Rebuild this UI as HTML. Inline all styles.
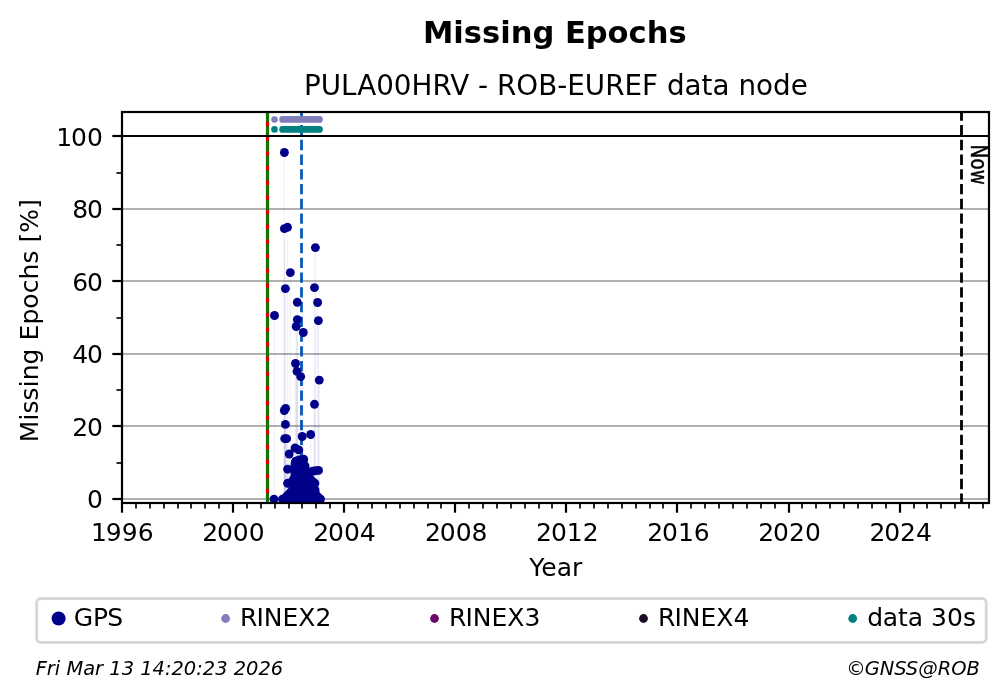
<!DOCTYPE html>
<html lang="en"><head><meta charset="utf-8"><title>Missing Epochs - PULA00HRV</title>
<style>html,body{margin:0;padding:0;background:#fff;}body{width:1008px;height:699px;overflow:hidden;font-family:"DejaVu Sans","Liberation Sans",sans-serif;}svg{display:block;will-change:transform;}</style>
</head><body>
<svg width="1008" height="699" viewBox="0 0 1008 699" font-family="DejaVu Sans, Liberation Sans, sans-serif">
<rect x="0" y="0" width="1008" height="699" fill="#ffffff"/>
<g stroke="#b0b0b0" stroke-width="2.2">
<line x1="122.0" x2="989.0" y1="499" y2="499"/>
<line x1="122.0" x2="989.0" y1="426" y2="426"/>
<line x1="122.0" x2="989.0" y1="354" y2="354"/>
<line x1="122.0" x2="989.0" y1="281" y2="281"/>
<line x1="122.0" x2="989.0" y1="209" y2="209"/>
</g>
<g>
<line x1="267.5" x2="267.5" y1="503.5" y2="112.0" stroke="#d80000" stroke-width="3.2"/>
<line x1="267.5" x2="267.5" y1="503.5" y2="112.0" stroke="#008000" stroke-width="2.8" stroke-dasharray="10.25 4.43"/>
<line x1="301.5" x2="301.5" y1="503.9" y2="112.0" stroke="#085ab8" stroke-width="2.8" stroke-dasharray="10.3 4.44"/>
<line x1="961.5" x2="961.5" y1="503.9" y2="112.0" stroke="#000" stroke-width="2.8" stroke-dasharray="10.3 4.44"/>
<g stroke="#00008b" stroke-opacity="0.05" stroke-width="1.5">
<line x1="284.4" x2="284.4" y1="152.5" y2="498.8"/>
<line x1="284.4" x2="284.4" y1="228.6" y2="498.8"/>
<line x1="287.5" x2="287.5" y1="227.3" y2="498.8"/>
<line x1="315.4" x2="315.4" y1="247.6" y2="498.8"/>
<line x1="290.3" x2="290.3" y1="272.6" y2="498.8"/>
<line x1="285.4" x2="285.4" y1="288.6" y2="498.8"/>
<line x1="314.5" x2="314.5" y1="287.6" y2="498.8"/>
<line x1="297.3" x2="297.3" y1="302.3" y2="498.8"/>
<line x1="317.6" x2="317.6" y1="302.5" y2="498.8"/>
<line x1="274.5" x2="274.5" y1="315.5" y2="498.8"/>
<line x1="297.3" x2="297.3" y1="319.6" y2="498.8"/>
<line x1="318.4" x2="318.4" y1="320.6" y2="498.8"/>
<line x1="296.2" x2="296.2" y1="326.5" y2="498.8"/>
<line x1="303.3" x2="303.3" y1="332.5" y2="498.8"/>
<line x1="295.5" x2="295.5" y1="363.5" y2="498.8"/>
<line x1="297.0" x2="297.0" y1="371.4" y2="498.8"/>
<line x1="300.7" x2="300.7" y1="376.6" y2="498.8"/>
<line x1="319.3" x2="319.3" y1="380.1" y2="498.8"/>
<line x1="314.5" x2="314.5" y1="404.3" y2="498.8"/>
<line x1="285.6" x2="285.6" y1="408.4" y2="498.8"/>
<line x1="284.3" x2="284.3" y1="410.5" y2="498.8"/>
<line x1="285.4" x2="285.4" y1="424.4" y2="498.8"/>
<line x1="310.7" x2="310.7" y1="434.5" y2="498.8"/>
<line x1="302.2" x2="302.2" y1="436.5" y2="498.8"/>
<line x1="284.7" x2="284.7" y1="438.6" y2="498.8"/>
<line x1="286.6" x2="286.6" y1="438.6" y2="498.8"/>
<line x1="295.1" x2="295.1" y1="448.0" y2="498.8"/>
<line x1="298.8" x2="298.8" y1="449.9" y2="498.8"/>
<line x1="289.2" x2="289.2" y1="454.0" y2="498.8"/>
<line x1="303.7" x2="303.7" y1="459.2" y2="498.8"/>
<line x1="295.6" x2="295.6" y1="461.2" y2="498.8"/>
<line x1="287.6" x2="287.6" y1="469.2" y2="498.8"/>
<line x1="318.5" x2="318.5" y1="470.4" y2="498.8"/>
<line x1="287.6" x2="287.6" y1="483.3" y2="498.8"/>
<line x1="314.9" x2="314.9" y1="483.3" y2="498.8"/>
</g>
<g fill="#00008b">
<circle cx="284.4" cy="152.5" r="4.45"/>
<circle cx="284.4" cy="228.6" r="4.45"/>
<circle cx="287.5" cy="227.3" r="4.45"/>
<circle cx="315.4" cy="247.6" r="4.45"/>
<circle cx="290.3" cy="272.6" r="4.45"/>
<circle cx="285.4" cy="288.6" r="4.45"/>
<circle cx="314.5" cy="287.6" r="4.45"/>
<circle cx="297.3" cy="302.3" r="4.45"/>
<circle cx="317.6" cy="302.5" r="4.45"/>
<circle cx="274.5" cy="315.5" r="4.45"/>
<circle cx="297.3" cy="319.6" r="4.45"/>
<circle cx="318.4" cy="320.6" r="4.45"/>
<circle cx="296.2" cy="326.5" r="4.45"/>
<circle cx="303.3" cy="332.5" r="4.45"/>
<circle cx="295.5" cy="363.5" r="4.45"/>
<circle cx="297.0" cy="371.4" r="4.45"/>
<circle cx="300.7" cy="376.6" r="4.45"/>
<circle cx="319.3" cy="380.1" r="4.45"/>
<circle cx="314.5" cy="404.3" r="4.45"/>
<circle cx="285.6" cy="408.4" r="4.45"/>
<circle cx="284.3" cy="410.5" r="4.45"/>
<circle cx="285.4" cy="424.4" r="4.45"/>
<circle cx="310.7" cy="434.5" r="4.45"/>
<circle cx="302.2" cy="436.5" r="4.45"/>
<circle cx="284.7" cy="438.6" r="4.45"/>
<circle cx="286.6" cy="438.6" r="4.45"/>
<circle cx="295.1" cy="448.0" r="4.45"/>
<circle cx="298.8" cy="449.9" r="4.45"/>
<circle cx="289.2" cy="454.0" r="4.45"/>
<circle cx="303.7" cy="459.2" r="4.45"/>
<circle cx="295.6" cy="461.2" r="4.45"/>
<circle cx="287.6" cy="469.2" r="4.45"/>
<circle cx="318.5" cy="470.4" r="4.45"/>
<circle cx="287.6" cy="483.3" r="4.45"/>
<circle cx="314.9" cy="483.3" r="4.45"/>
<circle cx="299.0" cy="460.0" r="4.45"/>
<circle cx="301.0" cy="460.0" r="4.45"/>
<circle cx="303.0" cy="460.0" r="4.45"/>
<circle cx="297.0" cy="462.0" r="4.45"/>
<circle cx="299.0" cy="462.0" r="4.45"/>
<circle cx="301.0" cy="462.0" r="4.45"/>
<circle cx="303.0" cy="462.0" r="4.45"/>
<circle cx="295.0" cy="464.0" r="4.45"/>
<circle cx="297.0" cy="464.0" r="4.45"/>
<circle cx="299.0" cy="464.0" r="4.45"/>
<circle cx="301.0" cy="464.0" r="4.45"/>
<circle cx="303.0" cy="464.0" r="4.45"/>
<circle cx="295.0" cy="466.0" r="4.45"/>
<circle cx="297.0" cy="466.0" r="4.45"/>
<circle cx="299.0" cy="466.0" r="4.45"/>
<circle cx="301.0" cy="466.0" r="4.45"/>
<circle cx="303.0" cy="466.0" r="4.45"/>
<circle cx="305.0" cy="466.0" r="4.45"/>
<circle cx="295.0" cy="468.0" r="4.45"/>
<circle cx="297.0" cy="468.0" r="4.45"/>
<circle cx="299.0" cy="468.0" r="4.45"/>
<circle cx="301.0" cy="468.0" r="4.45"/>
<circle cx="303.0" cy="468.0" r="4.45"/>
<circle cx="305.0" cy="468.0" r="4.45"/>
<circle cx="295.0" cy="470.0" r="4.45"/>
<circle cx="297.0" cy="470.0" r="4.45"/>
<circle cx="299.0" cy="470.0" r="4.45"/>
<circle cx="301.0" cy="470.0" r="4.45"/>
<circle cx="303.0" cy="470.0" r="4.45"/>
<circle cx="305.0" cy="470.0" r="4.45"/>
<circle cx="295.0" cy="472.0" r="4.45"/>
<circle cx="297.0" cy="472.0" r="4.45"/>
<circle cx="299.0" cy="472.0" r="4.45"/>
<circle cx="301.0" cy="472.0" r="4.45"/>
<circle cx="303.0" cy="472.0" r="4.45"/>
<circle cx="305.0" cy="472.0" r="4.45"/>
<circle cx="307.0" cy="472.0" r="4.45"/>
<circle cx="295.0" cy="474.0" r="4.45"/>
<circle cx="297.0" cy="474.0" r="4.45"/>
<circle cx="299.0" cy="474.0" r="4.45"/>
<circle cx="301.0" cy="474.0" r="4.45"/>
<circle cx="303.0" cy="474.0" r="4.45"/>
<circle cx="305.0" cy="474.0" r="4.45"/>
<circle cx="307.0" cy="474.0" r="4.45"/>
<circle cx="295.0" cy="476.0" r="4.45"/>
<circle cx="297.0" cy="476.0" r="4.45"/>
<circle cx="299.0" cy="476.0" r="4.45"/>
<circle cx="301.0" cy="476.0" r="4.45"/>
<circle cx="303.0" cy="476.0" r="4.45"/>
<circle cx="305.0" cy="476.0" r="4.45"/>
<circle cx="307.0" cy="476.0" r="4.45"/>
<circle cx="309.0" cy="476.0" r="4.45"/>
<circle cx="295.0" cy="478.0" r="4.45"/>
<circle cx="297.0" cy="478.0" r="4.45"/>
<circle cx="299.0" cy="478.0" r="4.45"/>
<circle cx="301.0" cy="478.0" r="4.45"/>
<circle cx="303.0" cy="478.0" r="4.45"/>
<circle cx="305.0" cy="478.0" r="4.45"/>
<circle cx="307.0" cy="478.0" r="4.45"/>
<circle cx="309.0" cy="478.0" r="4.45"/>
<circle cx="293.0" cy="480.0" r="4.45"/>
<circle cx="295.0" cy="480.0" r="4.45"/>
<circle cx="297.0" cy="480.0" r="4.45"/>
<circle cx="299.0" cy="480.0" r="4.45"/>
<circle cx="301.0" cy="480.0" r="4.45"/>
<circle cx="303.0" cy="480.0" r="4.45"/>
<circle cx="305.0" cy="480.0" r="4.45"/>
<circle cx="307.0" cy="480.0" r="4.45"/>
<circle cx="309.0" cy="480.0" r="4.45"/>
<circle cx="311.0" cy="480.0" r="4.45"/>
<circle cx="293.0" cy="482.0" r="4.45"/>
<circle cx="295.0" cy="482.0" r="4.45"/>
<circle cx="297.0" cy="482.0" r="4.45"/>
<circle cx="299.0" cy="482.0" r="4.45"/>
<circle cx="301.0" cy="482.0" r="4.45"/>
<circle cx="303.0" cy="482.0" r="4.45"/>
<circle cx="305.0" cy="482.0" r="4.45"/>
<circle cx="307.0" cy="482.0" r="4.45"/>
<circle cx="309.0" cy="482.0" r="4.45"/>
<circle cx="311.0" cy="482.0" r="4.45"/>
<circle cx="313.0" cy="482.0" r="4.45"/>
<circle cx="293.0" cy="484.0" r="4.45"/>
<circle cx="295.0" cy="484.0" r="4.45"/>
<circle cx="297.0" cy="484.0" r="4.45"/>
<circle cx="299.0" cy="484.0" r="4.45"/>
<circle cx="301.0" cy="484.0" r="4.45"/>
<circle cx="303.0" cy="484.0" r="4.45"/>
<circle cx="305.0" cy="484.0" r="4.45"/>
<circle cx="307.0" cy="484.0" r="4.45"/>
<circle cx="309.0" cy="484.0" r="4.45"/>
<circle cx="311.0" cy="484.0" r="4.45"/>
<circle cx="313.0" cy="484.0" r="4.45"/>
<circle cx="293.0" cy="486.0" r="4.45"/>
<circle cx="295.0" cy="486.0" r="4.45"/>
<circle cx="297.0" cy="486.0" r="4.45"/>
<circle cx="299.0" cy="486.0" r="4.45"/>
<circle cx="301.0" cy="486.0" r="4.45"/>
<circle cx="303.0" cy="486.0" r="4.45"/>
<circle cx="305.0" cy="486.0" r="4.45"/>
<circle cx="307.0" cy="486.0" r="4.45"/>
<circle cx="309.0" cy="486.0" r="4.45"/>
<circle cx="311.0" cy="486.0" r="4.45"/>
<circle cx="313.0" cy="486.0" r="4.45"/>
<circle cx="293.0" cy="488.0" r="4.45"/>
<circle cx="295.0" cy="488.0" r="4.45"/>
<circle cx="297.0" cy="488.0" r="4.45"/>
<circle cx="299.0" cy="488.0" r="4.45"/>
<circle cx="301.0" cy="488.0" r="4.45"/>
<circle cx="303.0" cy="488.0" r="4.45"/>
<circle cx="305.0" cy="488.0" r="4.45"/>
<circle cx="307.0" cy="488.0" r="4.45"/>
<circle cx="309.0" cy="488.0" r="4.45"/>
<circle cx="311.0" cy="488.0" r="4.45"/>
<circle cx="313.0" cy="488.0" r="4.45"/>
<circle cx="293.0" cy="490.0" r="4.45"/>
<circle cx="295.0" cy="490.0" r="4.45"/>
<circle cx="297.0" cy="490.0" r="4.45"/>
<circle cx="299.0" cy="490.0" r="4.45"/>
<circle cx="301.0" cy="490.0" r="4.45"/>
<circle cx="303.0" cy="490.0" r="4.45"/>
<circle cx="305.0" cy="490.0" r="4.45"/>
<circle cx="307.0" cy="490.0" r="4.45"/>
<circle cx="309.0" cy="490.0" r="4.45"/>
<circle cx="311.0" cy="490.0" r="4.45"/>
<circle cx="313.0" cy="490.0" r="4.45"/>
<circle cx="315.0" cy="490.0" r="4.45"/>
<circle cx="291.0" cy="492.0" r="4.45"/>
<circle cx="293.0" cy="492.0" r="4.45"/>
<circle cx="295.0" cy="492.0" r="4.45"/>
<circle cx="297.0" cy="492.0" r="4.45"/>
<circle cx="299.0" cy="492.0" r="4.45"/>
<circle cx="301.0" cy="492.0" r="4.45"/>
<circle cx="303.0" cy="492.0" r="4.45"/>
<circle cx="305.0" cy="492.0" r="4.45"/>
<circle cx="307.0" cy="492.0" r="4.45"/>
<circle cx="309.0" cy="492.0" r="4.45"/>
<circle cx="311.0" cy="492.0" r="4.45"/>
<circle cx="313.0" cy="492.0" r="4.45"/>
<circle cx="315.0" cy="492.0" r="4.45"/>
<circle cx="289.0" cy="494.0" r="4.45"/>
<circle cx="291.0" cy="494.0" r="4.45"/>
<circle cx="293.0" cy="494.0" r="4.45"/>
<circle cx="295.0" cy="494.0" r="4.45"/>
<circle cx="297.0" cy="494.0" r="4.45"/>
<circle cx="299.0" cy="494.0" r="4.45"/>
<circle cx="301.0" cy="494.0" r="4.45"/>
<circle cx="303.0" cy="494.0" r="4.45"/>
<circle cx="305.0" cy="494.0" r="4.45"/>
<circle cx="307.0" cy="494.0" r="4.45"/>
<circle cx="309.0" cy="494.0" r="4.45"/>
<circle cx="311.0" cy="494.0" r="4.45"/>
<circle cx="313.0" cy="494.0" r="4.45"/>
<circle cx="315.0" cy="494.0" r="4.45"/>
<circle cx="287.0" cy="496.0" r="4.45"/>
<circle cx="289.0" cy="496.0" r="4.45"/>
<circle cx="291.0" cy="496.0" r="4.45"/>
<circle cx="293.0" cy="496.0" r="4.45"/>
<circle cx="295.0" cy="496.0" r="4.45"/>
<circle cx="297.0" cy="496.0" r="4.45"/>
<circle cx="299.0" cy="496.0" r="4.45"/>
<circle cx="301.0" cy="496.0" r="4.45"/>
<circle cx="303.0" cy="496.0" r="4.45"/>
<circle cx="305.0" cy="496.0" r="4.45"/>
<circle cx="307.0" cy="496.0" r="4.45"/>
<circle cx="309.0" cy="496.0" r="4.45"/>
<circle cx="311.0" cy="496.0" r="4.45"/>
<circle cx="313.0" cy="496.0" r="4.45"/>
<circle cx="315.0" cy="496.0" r="4.45"/>
<circle cx="317.0" cy="496.0" r="4.45"/>
<circle cx="285.0" cy="498.0" r="4.45"/>
<circle cx="287.0" cy="498.0" r="4.45"/>
<circle cx="289.0" cy="498.0" r="4.45"/>
<circle cx="291.0" cy="498.0" r="4.45"/>
<circle cx="293.0" cy="498.0" r="4.45"/>
<circle cx="295.0" cy="498.0" r="4.45"/>
<circle cx="297.0" cy="498.0" r="4.45"/>
<circle cx="299.0" cy="498.0" r="4.45"/>
<circle cx="301.0" cy="498.0" r="4.45"/>
<circle cx="303.0" cy="498.0" r="4.45"/>
<circle cx="305.0" cy="498.0" r="4.45"/>
<circle cx="307.0" cy="498.0" r="4.45"/>
<circle cx="309.0" cy="498.0" r="4.45"/>
<circle cx="311.0" cy="498.0" r="4.45"/>
<circle cx="313.0" cy="498.0" r="4.45"/>
<circle cx="315.0" cy="498.0" r="4.45"/>
<circle cx="317.0" cy="498.0" r="4.45"/>
<circle cx="319.0" cy="498.0" r="4.45"/>
<circle cx="312.6" cy="471.2" r="4.45"/>
<circle cx="315.4" cy="470.8" r="4.45"/>
<circle cx="282.5" cy="499.1" r="4.45"/>
<circle cx="284.5" cy="499.1" r="4.45"/>
<circle cx="286.5" cy="499.1" r="4.45"/>
<circle cx="288.5" cy="499.1" r="4.45"/>
<circle cx="290.5" cy="499.1" r="4.45"/>
<circle cx="292.5" cy="499.1" r="4.45"/>
<circle cx="294.5" cy="499.1" r="4.45"/>
<circle cx="296.5" cy="499.1" r="4.45"/>
<circle cx="298.5" cy="499.1" r="4.45"/>
<circle cx="300.5" cy="499.1" r="4.45"/>
<circle cx="302.5" cy="499.1" r="4.45"/>
<circle cx="304.5" cy="499.1" r="4.45"/>
<circle cx="306.5" cy="499.1" r="4.45"/>
<circle cx="308.5" cy="499.1" r="4.45"/>
<circle cx="310.5" cy="499.1" r="4.45"/>
<circle cx="312.5" cy="499.1" r="4.45"/>
<circle cx="314.5" cy="499.1" r="4.45"/>
<circle cx="316.5" cy="499.1" r="4.45"/>
<circle cx="318.5" cy="499.1" r="4.45"/>
<circle cx="320.5" cy="499.1" r="4.45"/>
<circle cx="274.0" cy="499.1" r="4.45"/>
</g>
<circle cx="274.5" cy="119.45" r="3.3" fill="#827dbb"/>
<line x1="282.6" x2="319.5" y1="119.45" y2="119.45" stroke="#827dbb" stroke-width="6.7" stroke-linecap="round"/>
<circle cx="274.5" cy="129.4" r="3.3" fill="#008080"/>
<line x1="282.6" x2="319.5" y1="129.4" y2="129.4" stroke="#008080" stroke-width="6.7" stroke-linecap="round"/>
<line x1="122.0" x2="989.0" y1="136" y2="136" stroke="#000" stroke-width="2.2"/>
</g>
<text transform="translate(971.0,144.6) rotate(90) scale(0.885,1)" font-family="DejaVu Sans Condensed, DejaVu Sans, Liberation Sans, sans-serif" font-size="23.2" fill="#000" stroke="#000" stroke-width="0.35">Now</text>
<g stroke="#000" stroke-width="2.2">
<line x1="122" x2="122" y1="503.0" y2="512.7"/>
<line x1="233" x2="233" y1="503.0" y2="512.7"/>
<line x1="344" x2="344" y1="503.0" y2="512.7"/>
<line x1="455" x2="455" y1="503.0" y2="512.7"/>
<line x1="566" x2="566" y1="503.0" y2="512.7"/>
<line x1="677" x2="677" y1="503.0" y2="512.7"/>
<line x1="789" x2="789" y1="503.0" y2="512.7"/>
<line x1="900" x2="900" y1="503.0" y2="512.7"/>
<line x1="112.3" x2="122.0" y1="499" y2="499"/>
<line x1="112.3" x2="122.0" y1="426" y2="426"/>
<line x1="112.3" x2="122.0" y1="354" y2="354"/>
<line x1="112.3" x2="122.0" y1="281" y2="281"/>
<line x1="112.3" x2="122.0" y1="209" y2="209"/>
<line x1="112.3" x2="122.0" y1="136" y2="136"/>
</g>
<g stroke="#000" stroke-width="1.67">
<line x1="136" x2="136" y1="503.0" y2="508.55"/>
<line x1="150" x2="150" y1="503.0" y2="508.55"/>
<line x1="164" x2="164" y1="503.0" y2="508.55"/>
<line x1="178" x2="178" y1="503.0" y2="508.55"/>
<line x1="191" x2="191" y1="503.0" y2="508.55"/>
<line x1="205" x2="205" y1="503.0" y2="508.55"/>
<line x1="219" x2="219" y1="503.0" y2="508.55"/>
<line x1="247" x2="247" y1="503.0" y2="508.55"/>
<line x1="261" x2="261" y1="503.0" y2="508.55"/>
<line x1="275" x2="275" y1="503.0" y2="508.55"/>
<line x1="289" x2="289" y1="503.0" y2="508.55"/>
<line x1="302" x2="302" y1="503.0" y2="508.55"/>
<line x1="316" x2="316" y1="503.0" y2="508.55"/>
<line x1="330" x2="330" y1="503.0" y2="508.55"/>
<line x1="358" x2="358" y1="503.0" y2="508.55"/>
<line x1="372" x2="372" y1="503.0" y2="508.55"/>
<line x1="386" x2="386" y1="503.0" y2="508.55"/>
<line x1="400" x2="400" y1="503.0" y2="508.55"/>
<line x1="414" x2="414" y1="503.0" y2="508.55"/>
<line x1="428" x2="428" y1="503.0" y2="508.55"/>
<line x1="441" x2="441" y1="503.0" y2="508.55"/>
<line x1="469" x2="469" y1="503.0" y2="508.55"/>
<line x1="483" x2="483" y1="503.0" y2="508.55"/>
<line x1="497" x2="497" y1="503.0" y2="508.55"/>
<line x1="511" x2="511" y1="503.0" y2="508.55"/>
<line x1="525" x2="525" y1="503.0" y2="508.55"/>
<line x1="539" x2="539" y1="503.0" y2="508.55"/>
<line x1="552" x2="552" y1="503.0" y2="508.55"/>
<line x1="580" x2="580" y1="503.0" y2="508.55"/>
<line x1="594" x2="594" y1="503.0" y2="508.55"/>
<line x1="608" x2="608" y1="503.0" y2="508.55"/>
<line x1="622" x2="622" y1="503.0" y2="508.55"/>
<line x1="636" x2="636" y1="503.0" y2="508.55"/>
<line x1="650" x2="650" y1="503.0" y2="508.55"/>
<line x1="663" x2="663" y1="503.0" y2="508.55"/>
<line x1="691" x2="691" y1="503.0" y2="508.55"/>
<line x1="705" x2="705" y1="503.0" y2="508.55"/>
<line x1="719" x2="719" y1="503.0" y2="508.55"/>
<line x1="733" x2="733" y1="503.0" y2="508.55"/>
<line x1="747" x2="747" y1="503.0" y2="508.55"/>
<line x1="761" x2="761" y1="503.0" y2="508.55"/>
<line x1="775" x2="775" y1="503.0" y2="508.55"/>
<line x1="802" x2="802" y1="503.0" y2="508.55"/>
<line x1="816" x2="816" y1="503.0" y2="508.55"/>
<line x1="830" x2="830" y1="503.0" y2="508.55"/>
<line x1="844" x2="844" y1="503.0" y2="508.55"/>
<line x1="858" x2="858" y1="503.0" y2="508.55"/>
<line x1="872" x2="872" y1="503.0" y2="508.55"/>
<line x1="886" x2="886" y1="503.0" y2="508.55"/>
<line x1="914" x2="914" y1="503.0" y2="508.55"/>
<line x1="927" x2="927" y1="503.0" y2="508.55"/>
<line x1="941" x2="941" y1="503.0" y2="508.55"/>
<line x1="955" x2="955" y1="503.0" y2="508.55"/>
<line x1="969" x2="969" y1="503.0" y2="508.55"/>
<line x1="983" x2="983" y1="503.0" y2="508.55"/>
<line x1="116.45" x2="122.0" y1="463" y2="463"/>
<line x1="116.45" x2="122.0" y1="390" y2="390"/>
<line x1="116.45" x2="122.0" y1="318" y2="318"/>
<line x1="116.45" x2="122.0" y1="245" y2="245"/>
<line x1="116.45" x2="122.0" y1="173" y2="173"/>
</g>
<rect x="122.0" y="112.0" width="867.0" height="391.0" fill="none" stroke="#000" stroke-width="2.2" stroke-linejoin="miter"/>
<g font-size="25" fill="#000">
<text x="89.94" y="540.5" dx="1.1 -1.1">1996</text>
<text x="201.03" y="540.5" dx="1.1 -1.1">2000</text>
<text x="312.13" y="540.5" dx="1.1 -1.1">2004</text>
<text x="423.92" y="540.5" dx="1.1 -1.1">2008</text>
<text x="535.02" y="540.5" dx="1.1 -1.1">2012</text>
<text x="646.11" y="540.5" dx="1.1 -1.1">2016</text>
<text x="757.20" y="540.5" dx="1.1 -1.1">2020</text>
<text x="868.30" y="540.5" dx="1.1 -1.1">2024</text>
<text x="86.99" y="508">0</text>
<text x="71.09" y="436" dx="1.1 -1.1">20</text>
<text x="71.09" y="363" dx="1.1 -1.1">40</text>
<text x="71.09" y="291" dx="1.1 -1.1">60</text>
<text x="71.09" y="218" dx="1.1 -1.1">80</text>
<text x="55.18" y="146" dx="1.1 -1.1">100</text>
</g>
<text x="555.8" y="575.7" font-size="25" text-anchor="middle" fill="#000">Year</text>
<text transform="translate(38.2,320.6) rotate(-90)" font-size="25" letter-spacing="0.07" text-anchor="middle" fill="#000">Missing Epochs [%]</text>
<text x="555.85" y="94.8" font-size="27.78" letter-spacing="0.023" text-anchor="middle" fill="#000">PULA00HRV - ROB-EUREF data node</text>
<text x="554.8" y="42.5" font-size="30.56" font-weight="bold" text-anchor="middle" fill="#000">Missing Epochs</text>
<rect x="36.7" y="598.5" width="949.5" height="43.8" rx="4" ry="4" fill="#fff" stroke="#d6d6d6" stroke-width="2.78"/>
<circle cx="58.6" cy="618.5" r="7.0" fill="#00008b"/>
<text x="73.72" y="625.5" dx="0 0 -1" font-size="25" fill="#000">GPS</text>
<circle cx="225.6" cy="618.5" r="4.4" fill="#827dbb"/>
<text x="239.10" y="625.5" dx="1.0 -1.0" font-size="25" fill="#000">RINEX2</text>
<circle cx="434.5" cy="618.5" r="4.4" fill="#6a0a6a"/>
<text x="448.10" y="625.5" dx="1.0 -1.0" font-size="25" fill="#000">RINEX3</text>
<circle cx="643.5" cy="618.5" r="4.4" fill="#1e0a24"/>
<text x="657.10" y="625.5" dx="1.0 -1.0" font-size="25" fill="#000">RINEX4</text>
<circle cx="852.7" cy="618.5" r="4.4" fill="#008080"/>
<text x="866.83" y="625.5" dx="0.5 -0.5" font-size="25" fill="#000">data 30s</text>
<text x="35.7" y="675.3" font-size="19.44" font-style="italic" fill="#000">Fri Mar 13 14:20:23 2026</text>
<text x="845.19" y="674.8" dx="1 -1" font-size="19.44" font-style="italic" fill="#000">©GNSS@ROB</text>
</svg>
</body></html>
